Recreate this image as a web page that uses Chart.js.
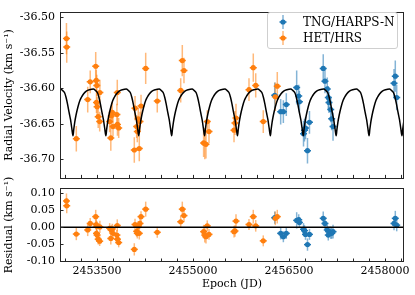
<!DOCTYPE html>
<html lang="en">
<head>
<meta charset="UTF-8">
<title>Radial velocity and residuals</title>
<script src="https://cdn.jsdelivr.net/npm/chart.js@4"></script>
<style>
    body { margin: 0; background: #fff; }
    #wrap { position: relative; width: 415px; height: 295px; font-family: 'DejaVu Serif', serif; }
    canvas { position: absolute; left: 0; }
    #rvChart { top: 0; }
    #resChart { top: 170px; }
    .legend {
        position: absolute; left: 267px; top: 12px; width: 129px; height: 35px;
        border: 1px solid #cfcfcf; border-radius: 3px; background: rgba(255,255,255,0.8);
        font-size: 12px; color: #000;
    }
    .legend .row { position: absolute; left: 0; height: 16px; line-height: 16px; white-space: nowrap; }
    .legend svg { position: absolute; left: 8px; top: 0; }
    .legend span { position: absolute; left: 35px; top: 0; }
</style>
</head>
<body>
<div id="wrap">
    <canvas id="rvChart" width="415" height="190"></canvas>
    <canvas id="resChart" width="415" height="125"></canvas>
    <div class="legend">
        <div class="row" style="top:1px">
            <svg width="14" height="16"><line x1="7" y1="1" x2="7" y2="15" stroke="rgba(31,119,180,0.55)" stroke-width="1.5"/><line x1="3.5" y1="8" x2="10.5" y2="8" stroke="#1f77b4" stroke-width="1.5"/><circle cx="7" cy="8" r="2.6" fill="#1f77b4"/></svg>
            <span>TNG/HARPS-N</span>
        </div>
        <div class="row" style="top:17px">
            <svg width="14" height="16"><line x1="7" y1="1" x2="7" y2="15" stroke="rgba(255,127,14,0.55)" stroke-width="1.5"/><line x1="3.5" y1="8" x2="10.5" y2="8" stroke="#ff7f0e" stroke-width="1.5"/><circle cx="7" cy="8" r="2.6" fill="#ff7f0e"/></svg>
            <span>HET/HRS</span>
        </div>
    </div>
</div>

<script>
// HET/HRS: epoch (JD), RV (km/s), error, residual
const hetJd = [2453023, 2453027, 2453177, 2453355, 2453394, 2453480, 2453489, 2453497, 2453492, 2453502,
               2453519, 2453542, 2453545, 2453698, 2453716, 2453723, 2453739, 2453750, 2453817, 2453811,
               2453820, 2453839, 2454083, 2454094, 2454120, 2454130, 2454145, 2454161, 2454172, 2454188,
               2454261, 2454442, 2454808, 2454833, 2454859, 2455166, 2455184, 2455203, 2455223, 2455250,
               2455641, 2455656, 2455672, 2455875, 2455942, 2455980, 2456098, 2456286, 2456317];
const hetRv = [-36.530, -36.542, -36.671, -36.616, -36.591, -36.569, -36.589, -36.596, -36.620, -36.626,
               -36.640, -36.647, -36.606, -36.647, -36.670, -36.639, -36.634, -36.654, -36.606, -36.637,
               -36.651, -36.656, -36.687, -36.628, -36.654, -36.661, -36.643, -36.685, -36.647, -36.625,
               -36.572, -36.618, -36.603, -36.561, -36.575, -36.677, -36.678, -36.679, -36.647, -36.661,
               -36.659, -36.649, -36.642, -36.602, -36.571, -36.596, -36.647, -36.612, -36.597];
const hetErr = [0.022, 0.022, 0.018, 0.018, 0.016, 0.020, 0.015, 0.015, 0.015, 0.014,
                0.016, 0.014, 0.018, 0.015, 0.018, 0.014, 0.015, 0.014, 0.018, 0.015,
                0.016, 0.014, 0.018, 0.017, 0.016, 0.015, 0.015, 0.018, 0.014, 0.016,
                0.022, 0.016, 0.017, 0.022, 0.018, 0.020, 0.022, 0.020, 0.016, 0.016,
                0.017, 0.017, 0.020, 0.016, 0.020, 0.017, 0.016, 0.020, 0.020];
const hetRes = [0.077, 0.063, -0.020, -0.008, 0.011, 0.031, 0.008, 0.003, -0.018, -0.023,
                -0.035, -0.041, 0.001, -0.003, -0.033, -0.008, -0.005, -0.018, 0.005, -0.023,
                -0.035, -0.045, -0.065, 0.008, -0.012, -0.018, 0.003, -0.018, 0.011, 0.031,
                0.053, -0.015, 0.016, 0.053, 0.034, -0.013, -0.023, -0.028, 0.004, -0.021,
                -0.013, -0.011, 0.018, 0.008, 0.031, 0.004, -0.040, 0.026, 0.031];

// TNG/HARPS-N
const tngJd = [2456277, 2456370, 2456412, 2456458, 2456620, 2456652, 2456663, 2456727, 2456742, 2456758,
               2456789, 2456820, 2457035, 2457062, 2457098, 2457114, 2457125, 2457152, 2457167, 2457188,
               2458141, 2458161, 2458183];
const tngRv = [-36.610, -36.633, -36.633, -36.623, -36.599, -36.611, -36.619, -36.664, -36.659, -36.656,
               -36.688, -36.648, -36.572, -36.590, -36.601, -36.613, -36.620, -36.630, -36.643, -36.654,
               -36.593, -36.583, -36.613];
const tngErr = [0.018, 0.018, 0.016, 0.016, 0.024, 0.016, 0.015, 0.018, 0.016, 0.016,
                0.018, 0.016, 0.020, 0.017, 0.016, 0.016, 0.015, 0.018, 0.016, 0.020,
                0.020, 0.022, 0.018];
const tngRes = [0.028, -0.018, -0.028, -0.018, 0.020, 0.022, 0.014, -0.006, -0.010, -0.021,
                -0.051, -0.021, 0.026, 0.011, -0.008, -0.023, -0.013, -0.016, -0.018, -0.013,
                0.011, 0.026, 0.006];

// fitted orbit: one cycle (days after minimum, km/s)
const modelPhase = [0, 12, 27, 47, 78, 109, 130, 164, 208, 258, 319, 350, 381, 406, 428, 453, 475, 495];
const modelRv = [-36.667, -36.658, -36.648, -36.638, -36.626, -36.617, -36.613, -36.608, -36.604, -36.602,
                 -36.601, -36.603, -36.606, -36.613, -36.622, -36.634, -36.644, -36.656];
const modelPeriod = 514;
const modelT0 = 2453125;

const xLabelTicks = [2453500, 2455000, 2456500, 2458000];
const xMin = 2452922, xMax = 2458297;

const orange = '#ff7f0e', orangeErr = 'rgba(255,127,14,0.55)';
const blue = '#1f77b4', blueErr = 'rgba(31,119,180,0.55)';

Chart.defaults.font.family = "'DejaVu Serif', serif";
Chart.defaults.font.size = 11;
Chart.defaults.color = '#000';

const modelPts = [];
for (let t0 = modelT0 - modelPeriod; t0 < xMax + modelPeriod; t0 += modelPeriod) {
    modelPhase.forEach((p, i) => modelPts.push({x: t0 + p, y: modelRv[i]}));
}
const pts = (xs, ys) => xs.map((x, i) => ({x: x, y: ys[i]}));

// vertical error bars + little horizontal bar through each point
const errorBars = {
    id: 'errorBars',
    beforeDatasetsDraw(chart) {
        const {ctx, chartArea: a, scales: {x, y}} = chart;
        ctx.save();
        ctx.beginPath();
        ctx.rect(a.left, a.top, a.width, a.height);
        ctx.clip();
        chart.data.datasets.slice().reverse().forEach(ds => {
            if (!ds.errors) return;
            ds.data.forEach((p, j) => {
                const px = x.getPixelForValue(p.x);
                const py = y.getPixelForValue(p.y);
                ctx.lineWidth = 1.5;
                ctx.strokeStyle = ds.errorColor;
                ctx.beginPath();
                ctx.moveTo(px, y.getPixelForValue(p.y - ds.errors[j]));
                ctx.lineTo(px, y.getPixelForValue(p.y + ds.errors[j]));
                ctx.stroke();
                ctx.strokeStyle = ds.backgroundColor;
                ctx.beginPath();
                ctx.moveTo(px - 3.5, py);
                ctx.lineTo(px + 3.5, py);
                ctx.stroke();
            });
        });
        ctx.restore();
    }
};

// axes frame with inward tick marks
const frame = {
    id: 'frame',
    afterDraw(chart) {
        const {ctx, chartArea: a, scales: {x, y}} = chart;
        ctx.save();
        ctx.strokeStyle = '#262626';
        ctx.lineWidth = 1;
        ctx.beginPath();
        x.ticks.forEach(t => {
            const px = Math.round(x.getPixelForValue(t.value)) + 0.5;
            ctx.moveTo(px, a.bottom);
            ctx.lineTo(px, a.bottom - 3.5);
        });
        y.ticks.forEach(t => {
            const py = Math.round(y.getPixelForValue(t.value)) + 0.5;
            ctx.moveTo(a.left, py);
            ctx.lineTo(a.left + 3.5, py);
        });
        ctx.stroke();
        ctx.strokeRect(Math.round(a.left) + 0.5, Math.round(a.top) + 0.5,
                       Math.round(a.width) - 1, Math.round(a.height) - 1);
        ctx.restore();
    }
};

function xAxis(showLabels) {
    return {
        type: 'linear', min: xMin, max: xMax,
        grid: { display: false, drawTicks: false },
        border: { display: false },
        ticks: {
            display: showLabels, stepSize: 250, maxTicksLimit: 100, autoSkip: false,
            maxRotation: 0, minRotation: 0, includeBounds: false, padding: 3,
            callback: v => xLabelTicks.includes(v) ? String(v) : ''
        },
        title: { display: showLabels, text: 'Epoch (JD)', padding: { top: 0, bottom: 4 } },
        afterFit: s => { s.height = showLabels ? 33 : 0; }
    };
}

function yAxis(min, max, title) {
    return {
        min: min, max: max,
        grid: { display: false, drawTicks: false },
        border: { display: false },
        ticks: { stepSize: 0.05, includeBounds: false, padding: 5, callback: v => v.toFixed(2) },
        title: { display: true, text: title, padding: { top: 3, bottom: 0 } },
        afterFit: s => { s.width = 60; }
    };
}

const baseOptions = (padding, xShow, yMin, yMax, yTitle) => ({
    responsive: false,
    animation: false,
    devicePixelRatio: 1,
    layout: { padding: padding },
    plugins: { legend: { display: false }, tooltip: { enabled: false } },
    scales: { x: xAxis(xShow), y: yAxis(yMin, yMax, yTitle) }
});

// Radial velocity panel
new Chart(document.getElementById('rvChart'), {
    type: 'scatter',
    data: {
        datasets: [
            { label: 'model', data: modelPts, showLine: true, borderColor: '#000', borderWidth: 1.5,
              pointRadius: 0, cubicInterpolationMode: 'monotone', fill: false },
            { label: 'HET/HRS', data: pts(hetJd, hetRv), errors: hetErr, errorColor: orangeErr,
              backgroundColor: orange, borderWidth: 0, pointRadius: 2.6 },
            { label: 'TNG/HARPS-N', data: pts(tngJd, tngRv), errors: tngErr, errorColor: blueErr,
              backgroundColor: blue, borderWidth: 0, pointRadius: 2.6 }
        ]
    },
    options: baseOptions({ top: 6, right: 11, bottom: 7, left: 0 }, false, -36.727, -36.492,
                         'Radial Velocity (km s\u207B\u00B9)'),
    plugins: [errorBars, frame]
});

// Residual panel
new Chart(document.getElementById('resChart'), {
    type: 'scatter',
    data: {
        datasets: [
            { label: 'zero', data: [{x: xMin, y: 0}, {x: xMax, y: 0}], showLine: true, borderColor: '#000',
              borderWidth: 1.5, pointRadius: 0 },
            { label: 'HET/HRS', data: pts(hetJd, hetRes), errors: hetErr, errorColor: orangeErr,
              backgroundColor: orange, borderWidth: 0, pointRadius: 2.6 },
            { label: 'TNG/HARPS-N', data: pts(tngJd, tngRes), errors: tngErr, errorColor: blueErr,
              backgroundColor: blue, borderWidth: 0, pointRadius: 2.6 }
        ]
    },
    options: baseOptions({ top: 18, right: 11, bottom: 0, left: 0 }, true, -0.102, 0.115,
                         'Residual (km s\u207B\u00B9)'),
    plugins: [errorBars, frame]
});
</script>
</body>
</html>
